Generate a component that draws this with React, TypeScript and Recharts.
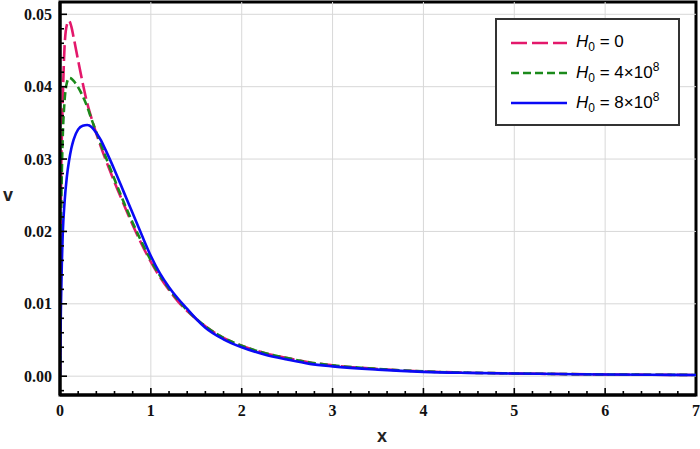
import React from 'react';
import { LineChart, Line, XAxis, YAxis, ReferenceLine, ReferenceArea } from 'recharts';

// sample points along x
const xs = [0, 0.01, 0.02, 0.03, 0.05, 0.075, 0.1, 0.125, 0.15, 0.2, 0.25, 0.3, 0.35, 0.4, 0.45, 0.5, 0.6, 0.7, 0.8, 0.9, 1.0, 1.1, 1.2, 1.3, 1.4, 1.5, 1.6, 1.8, 2.0, 2.25, 2.5, 2.75, 3.0, 3.5, 4.0, 4.5, 5.0, 5.5, 6.0, 6.5, 7.0];

// v for H0 = 0
const vH0 = [0, 0.024, 0.033, 0.038, 0.0455, 0.0485, 0.0491, 0.0483, 0.0468, 0.0436, 0.0405, 0.0377, 0.0355, 0.0335, 0.0317, 0.03, 0.0268, 0.0238, 0.0209, 0.0182, 0.0158, 0.0137, 0.0119, 0.0103, 0.009, 0.0079, 0.0069, 0.0053, 0.0042, 0.0032, 0.0025, 0.0019, 0.0015, 0.001, 0.00066, 0.00048, 0.00038, 0.0003, 0.00024, 0.0002, 0.00017];
// v for H0 = 4x10^8
const vH4 = [0, 0.02, 0.028, 0.033, 0.038, 0.0405, 0.0412, 0.0411, 0.0408, 0.0399, 0.0387, 0.0372, 0.0354, 0.0337, 0.032, 0.0304, 0.0272, 0.0241, 0.0212, 0.0185, 0.016, 0.0139, 0.0121, 0.0105, 0.0091, 0.0079, 0.0069, 0.0053, 0.0042, 0.0032, 0.0025, 0.0019, 0.0015, 0.001, 0.00066, 0.00048, 0.00038, 0.0003, 0.00024, 0.0002, 0.00017];
// v for H0 = 8x10^8
const vH8 = [0, 0.0095, 0.0155, 0.0196, 0.024, 0.0275, 0.0298, 0.0315, 0.0327, 0.0341, 0.0346, 0.0347, 0.0344, 0.0336, 0.0326, 0.0313, 0.0285, 0.0255, 0.0225, 0.0195, 0.0166, 0.0142, 0.0123, 0.0107, 0.0093, 0.0079, 0.0067, 0.0051, 0.004, 0.003, 0.0023, 0.0017, 0.00135, 0.0009, 0.0006, 0.00046, 0.00037, 0.0003, 0.00023, 0.0002, 0.00017];

const xMajor = [0, 1, 2, 3, 4, 5, 6, 7];
const yMajor = [0, 0.01, 0.02, 0.03, 0.04, 0.05];
const xDomain: [number, number] = [0, 7];
const yDomain: [number, number] = [-0.0026, 0.0517];

const data = xs.map((x, i) => ({ x, h0: vH0[i], h4: vH4[i], h8: vH8[i] }));

// majors plus 4 minor ticks between each pair, kept inside the domain
function withMinor(majors: number[], dom: [number, number]) {
  const step = (majors[1] - majors[0]) / 5;
  const out: number[] = [];
  for (let k = Math.ceil(dom[0] / step - 1e-9); k * step <= dom[1] + 1e-12; k++) {
    out.push(Math.round(k * step * 1e6) / 1e6);
  }
  return out;
}
const isMajor = (v: number, majors: number[]) => majors.some(m => Math.abs(m - v) < 1e-9);

const tickStyle = { fontFamily: '"Liberation Serif", "Times New Roman", serif', fontWeight: 700, fontSize: 16 };

const Y_MARGIN = 8;
const X_MARGIN = 10;

function YTick(props: any) {
  const { x, y, payload } = props;
  const ax = x + Y_MARGIN;
  const major = isMajor(payload.value, yMajor);
  return (
    <g>
      <line x1={ax} x2={ax + (major ? 7 : 4)} y1={y} y2={y} stroke="#000" strokeWidth={1.6} />
      {major && (
        <text x={x} y={y} dy="0.355em" textAnchor="end" fill="#111" style={tickStyle}>{payload.value.toFixed(2)}</text>
      )}
    </g>
  );
}

function XTick(props: any) {
  const { x, y, payload } = props;
  const ay = y - X_MARGIN;
  const major = isMajor(payload.value, xMajor);
  return (
    <g>
      <line x1={x} x2={x} y1={ay} y2={ay - (major ? 7 : 4)} stroke="#000" strokeWidth={1.6} />
      {major && (
        <text x={x} y={y} dy="0.71em" textAnchor="middle" fill="#111" style={tickStyle}>{payload.value}</text>
      )}
    </g>
  );
}

const legendItems = [
  { color: '#e3186b', dash: '16 5', sup: null as string | null, value: '0' },
  { color: '#1b8a1b', dash: '8 4', sup: '8', value: '4×10' },
  { color: '#0a0af5', dash: undefined, sup: '8', value: '8×10' },
];

export default function App() {
  return (
    <div style={{ position: 'absolute', left: 0, top: 0, width: 700, height: 449, background: '#fff' }}>
      <LineChart width={700} height={449} data={data} margin={{ top: 2, right: 4, bottom: 0, left: 0 }}>
        {xMajor.slice(1, -1).map(v => (
          <ReferenceLine key={'gx' + v} x={v} stroke="#d8d8d8" strokeWidth={1} />
        ))}
        {yMajor.map(v => (
          <ReferenceLine key={'gy' + v} y={v} stroke="#d8d8d8" strokeWidth={1} />
        ))}
        <XAxis
          dataKey="x"
          type="number"
          domain={xDomain}
          allowDataOverflow
          ticks={withMinor(xMajor, xDomain)}
          interval={0}
          height={54}
          tickSize={0}
          tickMargin={X_MARGIN}
          tickLine={false}
          axisLine={{ stroke: '#000', strokeWidth: 3 }}
          tick={<XTick />}
        />
        <YAxis
          type="number"
          domain={yDomain}
          allowDataOverflow
          ticks={withMinor(yMajor, yDomain)}
          interval={0}
          width={60}
          tickSize={0}
          tickMargin={Y_MARGIN}
          tickLine={false}
          axisLine={{ stroke: '#000', strokeWidth: 3 }}
          tick={<YTick />}
        />
        <ReferenceArea x1={xDomain[0]} x2={xDomain[1]} y1={yDomain[0]} y2={yDomain[1]} fill="none" stroke="#000" strokeWidth={3} />
        <Line type="monotone" dataKey="h0" stroke="#e3186b" strokeWidth={2.6} strokeDasharray="16 5" dot={false} isAnimationActive={false} />
        <Line type="monotone" dataKey="h4" stroke="#1b8a1b" strokeWidth={2.6} strokeDasharray="8 4" dot={false} isAnimationActive={false} />
        <Line type="monotone" dataKey="h8" stroke="#0a0af5" strokeWidth={2.6} dot={false} isAnimationActive={false} />
      </LineChart>

      <div style={{ position: 'absolute', left: 377, top: 426, fontFamily: '"Liberation Sans", Arial, sans-serif', fontWeight: 'bold', fontSize: 18, color: '#222' }}>x</div>
      <div style={{ position: 'absolute', left: 3, top: 185, fontFamily: '"Liberation Sans", Arial, sans-serif', fontWeight: 'bold', fontSize: 18, color: '#222' }}>v</div>

      <div style={{ position: 'absolute', left: 495, top: 18, width: 181, height: 104, border: '2px solid #333', background: '#fff' }}>
        {legendItems.map((it, i) => (
          <div key={i} style={{ position: 'absolute', left: 13, top: 11 + i * 30, height: 24, display: 'flex', alignItems: 'center', fontFamily: '"Liberation Sans", Arial, sans-serif', fontSize: 17, color: '#000', whiteSpace: 'nowrap' }}>
            <svg width={58} height={6} style={{ marginRight: 8 }}>
              <line x1={1} x2={57} y1={3} y2={3} stroke={it.color} strokeWidth={2.6} strokeDasharray={it.dash} />
            </svg>
            <span>
              <i>H</i><sub style={{ fontSize: 12 }}>0</sub> = {it.value}{it.sup && <sup style={{ fontSize: 12 }}>{it.sup}</sup>}
            </span>
          </div>
        ))}
      </div>
    </div>
  );
}
